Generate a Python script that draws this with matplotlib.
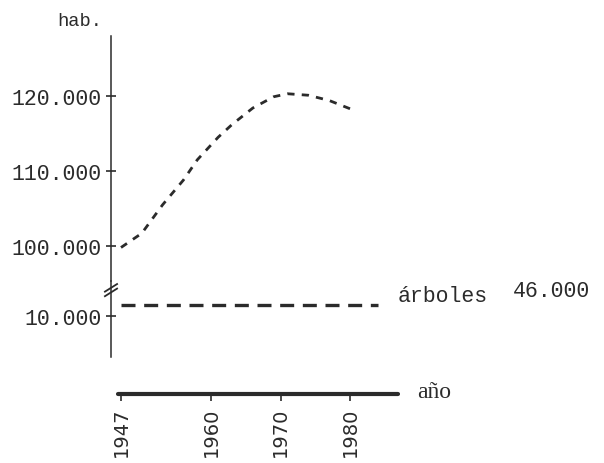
import matplotlib
matplotlib.use("Agg")
import matplotlib.pyplot as plt

# ----------------------------
# Data
# ----------------------------
anios = [1947, 1950, 1953, 1956, 1958, 1961, 1963, 1966, 1969, 1971, 1974, 1977, 1980]
habitantes = [99800, 101700, 105500, 108800, 111500, 114500, 116200, 118400,
              119900, 120300, 120100, 119400, 118300]

arboles_anios = [1947, 1984]
arboles_nivel = [11500, 11500]
arboles_total = 46000

y_ticks_alto = [100000, 110000, 120000]
y_ticks_bajo = [10000]
x_ticks = [1947, 1960, 1970, 1980]


def fmt_miles(v):
    return f"{v:,}".replace(",", ".")


# ----------------------------
# Layout helpers (pixel -> figure / data)
# ----------------------------
W, H = 604, 464
INK = "#2b2b2b"
MONO = "Liberation Mono"


def rect(x0, y0, x1, y1):
    return [x0 / W, 1 - y1 / H, (x1 - x0) / W, (y1 - y0) / H]


def yr(px):
    return 1947 + (px - 121) / 6.94


def pop_alto(py):
    return 100000 + (247 - py) / 0.0075


def pop_bajo(py):
    return 10000 + (317 - py) / 0.0075


fig = plt.figure(figsize=(W / 100, H / 100), dpi=100)
fig.patch.set_facecolor("white")

# upper segment (habitantes)
ax_top = fig.add_axes(rect(111, 37, 400, 282))
ax_top.set_xlim(yr(111), yr(400))
ax_top.set_ylim(pop_alto(282), pop_alto(37))
ax_top.plot(anios, habitantes, color=INK, lw=2.0, dashes=(2.6, 2.6))

# lower segment (after the axis break)
ax_low = fig.add_axes(rect(111, 282, 400, 358))
ax_low.set_xlim(yr(111), yr(400))
ax_low.set_ylim(pop_bajo(358), pop_bajo(282))
ax_low.plot(arboles_anios, arboles_nivel, color=INK, lw=2.4, dashes=(4.2, 2.6))

for ax, ticks in ((ax_top, y_ticks_alto), (ax_low, y_ticks_bajo)):
    ax.set_facecolor("none")
    for s in ("top", "right", "bottom"):
        ax.spines[s].set_visible(False)
    ax.spines["left"].set_color(INK)
    ax.spines["left"].set_linewidth(1.1)
    ax.set_xticks([])
    ax.set_yticks(ticks)
    ax.set_yticklabels([fmt_miles(t) for t in ticks], fontfamily=MONO,
                       fontsize=15.5, color=INK)
    ax.tick_params(axis="y", direction="inout", length=7, width=1.2,
                   color=INK, pad=3)

# break marks on the vertical axis
for dy in (0.0, 0.06):
    ax_low.plot([-0.021, 0.021], [0.80 + dy, 0.90 + dy], transform=ax_low.transAxes,
                color=INK, lw=1.3, clip_on=False)

# labels of the trees line
ax_low.annotate("árboles", xy=(arboles_anios[-1], arboles_nivel[-1]),
                xytext=(14, 7), textcoords="offset points", ha="left", va="center",
                fontfamily=MONO, fontsize=15.5, color=INK)
ax_low.annotate(fmt_miles(arboles_total), xy=(arboles_anios[-1], arboles_nivel[-1]),
                xytext=(97, 10), textcoords="offset points", ha="left", va="center",
                fontfamily=MONO, fontsize=15.5, color=INK)

fig.text(80 / W, 1 - 21 / H, "hab.", ha="center", va="center",
         fontfamily=MONO, fontsize=13.5, color=INK)

# year axis
ax_x = fig.add_axes(rect(118, 380, 398, 395))
ax_x.set_facecolor("none")
ax_x.set_xlim(yr(118), yr(398))
ax_x.set_yticks([])
for s in ("top", "right", "left"):
    ax_x.spines[s].set_visible(False)
ax_x.spines["bottom"].set_color(INK)
ax_x.spines["bottom"].set_linewidth(3.0)
ax_x.spines["bottom"].set_capstyle("round")
ax_x.set_xticks(x_ticks)
ax_x.set_xticklabels([str(t) for t in x_ticks], rotation=90, fontfamily="DejaVu Sans",
                     fontsize=14, color=INK)
ax_x.tick_params(axis="x", direction="out", length=5, width=1.2, color=INK, pad=4)

ax_x.annotate("año", xy=(1, 0), xycoords="axes fraction", xytext=(14, 2),
              textcoords="offset points", ha="left", va="center",
              fontfamily="Liberation Serif", fontsize=17, color=INK)

fig.savefig("out.png", dpi=100, facecolor="white")
